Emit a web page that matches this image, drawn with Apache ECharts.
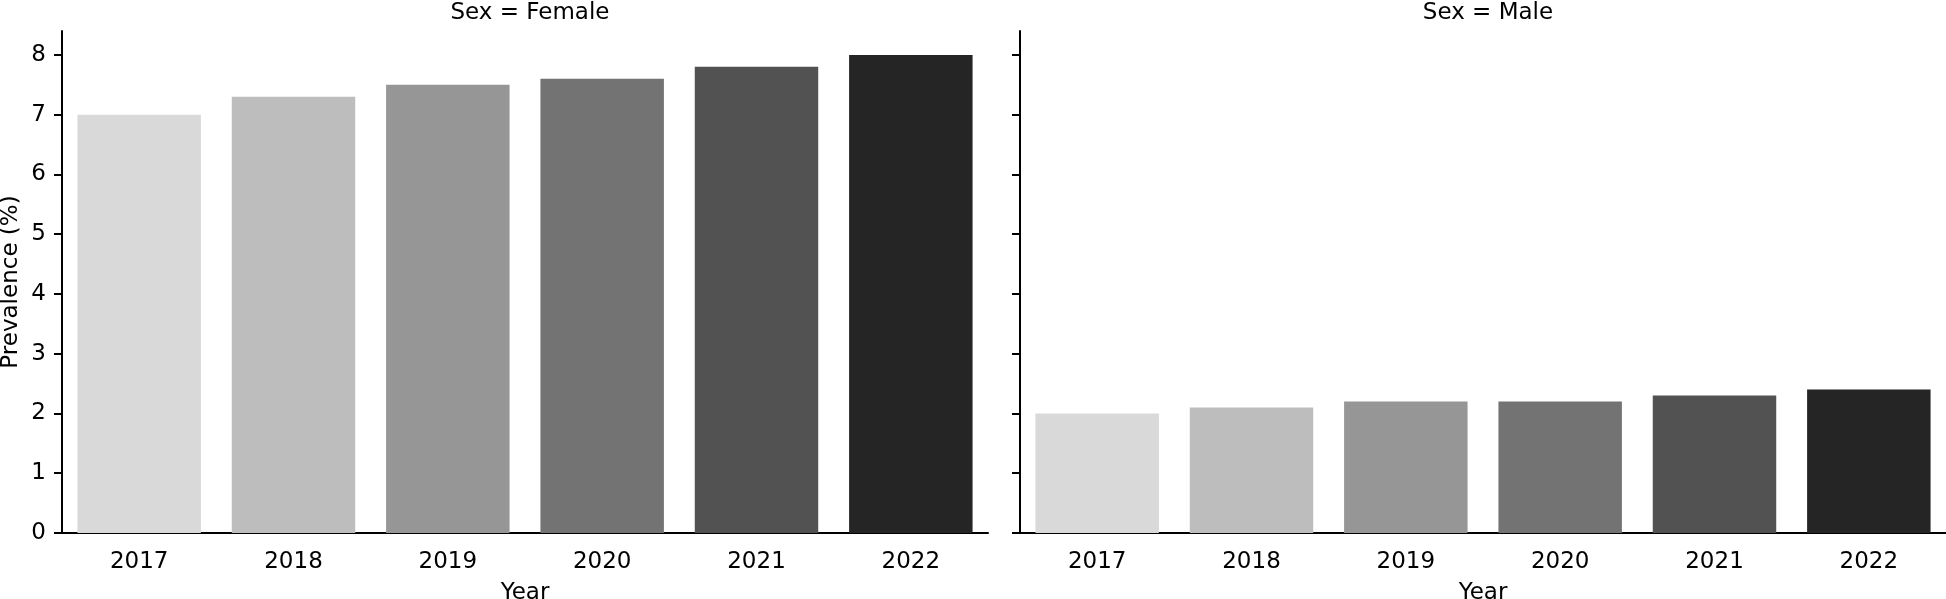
<!DOCTYPE html>
<html>
<head>
<meta charset="utf-8">
<script src="https://cdn.jsdelivr.net/npm/echarts@6/dist/echarts.min.js"></script>
<style>
  html, body { margin: 0; padding: 0; background: #fff; }
  #chart { width: 1946px; height: 599px; }
</style>
</head>
<body>
<div id="chart"></div>
<script>
  // data
  var years = ['2017', '2018', '2019', '2020', '2021', '2022'];
  var female = [7.0, 7.3, 7.5, 7.6, 7.8, 8.0];
  var male = [2.0, 2.1, 2.2, 2.2, 2.3, 2.4];
  var yTicks = [0, 1, 2, 3, 4, 5, 6, 7, 8];
  var greys = ['#d9d9d9', '#bdbdbd', '#969696', '#737373', '#525252', '#252525'];

  var font = 'DejaVu Sans';
  var fs = 23;
  var chart = echarts.init(document.getElementById('chart'));

  function barData(vals) {
    return vals.map(function (v, i) {
      return { value: v, itemStyle: { color: greys[i] } };
    });
  }

  function xAxis(idx) {
    return {
      type: 'category',
      gridIndex: idx,
      data: years,
      name: 'Year',
      nameLocation: 'middle',
      nameGap: 49,
      nameTextStyle: { fontFamily: font, fontSize: fs, color: '#000' },
      axisLine: { lineStyle: { color: '#000', width: 2 } },
      axisTick: { alignWithLabel: true, length: 8, lineStyle: { color: '#000', width: 2 } },
      axisLabel: { fontFamily: font, fontSize: fs, color: '#000', margin: 18 }
    };
  }

  function yAxis(idx) {
    return {
      type: 'value',
      gridIndex: idx,
      min: 0,
      max: 8.4,
      interval: 1,
      name: idx === 0 ? 'Prevalence (%)' : '',
      nameLocation: 'middle',
      nameGap: 39,
      nameTextStyle: { fontFamily: font, fontSize: fs, color: '#000' },
      splitLine: { show: false },
      axisLine: { show: true, lineStyle: { color: '#000', width: 2 } },
      axisTick: { show: true, length: 8, customValues: yTicks, lineStyle: { color: '#000', width: 2 } },
      axisLabel: { show: idx === 0, customValues: yTicks, fontFamily: font, fontSize: fs, color: '#000', margin: 16 }
    };
  }

  var option = {
    backgroundColor: '#ffffff',
    animation: false,
    title: [
      { text: 'Sex = Female', left: 525, top: -3, textAlign: 'center',
        textStyle: { fontFamily: font, fontSize: fs, fontWeight: 'normal', color: '#000' } },
      { text: 'Sex = Male', left: 1483, top: -3, textAlign: 'center',
        textStyle: { fontFamily: font, fontSize: fs, fontWeight: 'normal', color: '#000' } }
    ],
    grid: [
      { left: 62, top: 31, width: 926, height: 502, outerBoundsMode: 'none' },
      { left: 1020, top: 31, width: 926, height: 502, outerBoundsMode: 'none' }
    ],
    xAxis: [xAxis(0), xAxis(1)],
    yAxis: [yAxis(0), yAxis(1)],
    series: [
      { type: 'bar', xAxisIndex: 0, yAxisIndex: 0, barCategoryGap: '20%', data: barData(female) },
      { type: 'bar', xAxisIndex: 1, yAxisIndex: 1, barCategoryGap: '20%', data: barData(male) }
    ]
  };
  chart.setOption(option);
</script>
</body>
</html>
